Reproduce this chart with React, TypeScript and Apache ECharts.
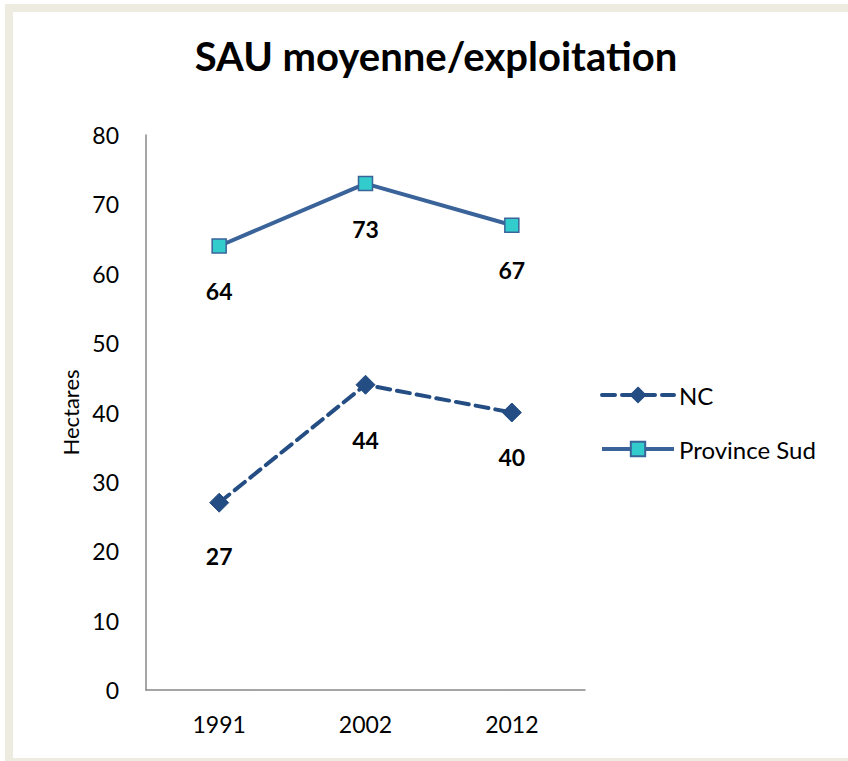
import React, { useEffect, useRef } from "react";
import * as echarts from "echarts";

const categories = ["1991", "2002", "2012"];
const ncValues = [27, 44, 40];
const sudValues = [64, 73, 67];
const seriesNames = ["NC", "Province Sud"];
const titleText = "SAU moyenne/exploitation";
const yAxisName = "Hectares";

const FONT = "Lato, 'Open Sans', sans-serif";

export default function App() {
  const ref = useRef<HTMLDivElement>(null);
  useEffect(() => {
    if (!ref.current) return;
    const chart = echarts.init(ref.current, null, { renderer: "svg" });
    const labelStyle = {
      show: true,
      position: "bottom",
      distance: 26,
      fontFamily: FONT,
      fontWeight: "bold",
      fontSize: 23,
      color: "#000",
    };
    const ncDist = [32, 34, 23];
    chart.setOption({
      animation: false,
      backgroundColor: "#fff",
      title: {
        text: titleText,
        left: 431,
        textAlign: "center",
        top: 31,
        textStyle: { fontFamily: FONT, fontWeight: "bold", fontSize: 40, color: "#000" },
      },
      graphic: [
        {
          type: "rect",
          shape: { x: 9, y: 8, width: 860, height: 754 },
          style: { fill: "none", stroke: "#EEECE1", lineWidth: 8 },
          silent: true,
        },
      ],
      grid: { left: 146, right: 263, top: 135, bottom: 71 },
      legend: {
        orient: "vertical",
        left: 595,
        top: 378,
        itemWidth: 72,
        itemHeight: 18,
        itemGap: 30,
        itemGap2: 0,
        lineStyle: { width: 4 },
        textStyle: { fontFamily: FONT, fontSize: 24, color: "#000" },
        data: seriesNames,
      },
      xAxis: {
        type: "category",
        data: categories,
        boundaryGap: true,
        axisLine: { lineStyle: { color: "#888", width: 1.5 } },
        axisTick: { show: false },
        axisLabel: { fontFamily: FONT, fontSize: 23, color: "#000", margin: 22 },
      },
      yAxis: {
        type: "value",
        min: 0,
        max: 80,
        interval: 10,
        name: yAxisName,
        nameLocation: "middle",
        nameGap: 64,
        nameTextStyle: { fontFamily: FONT, fontSize: 22, color: "#000" },
        axisLine: { show: true, lineStyle: { color: "#888", width: 1.5 } },
        axisTick: { show: false },
        splitLine: { show: false },
        axisLabel: { fontFamily: FONT, fontSize: 23, color: "#000", margin: 27 },
      },
      series: [
        {
          name: seriesNames[0],
          type: "line",
          data: ncValues.map((v, i) => ({ value: v, label: { distance: ncDist[i] } })),
          symbol: "diamond",
          symbolSize: 19,
          color: "#244D84",
          lineStyle: { color: "#244D84", width: 4, type: [13, 7], cap: "round" },
          itemStyle: { color: "#244D84", borderColor: "#244D84", borderWidth: 1 },
          label: labelStyle,
        },
        {
          name: seriesNames[1],
          type: "line",
          data: sudValues,
          symbol: "rect",
          symbolSize: 14,
          color: "#33CCCC",
          lineStyle: { color: "#3A6399", width: 4 },
          itemStyle: { color: "#33CCCC", borderColor: "#3A6399", borderWidth: 1.5 },
          label: labelStyle,
        },
      ],
    });
    return () => chart.dispose();
  }, []);
  return (
    <div
      ref={ref}
      style={{ position: "fixed", left: 0, top: 0, width: 848, height: 761 }}
    />
  );
}
